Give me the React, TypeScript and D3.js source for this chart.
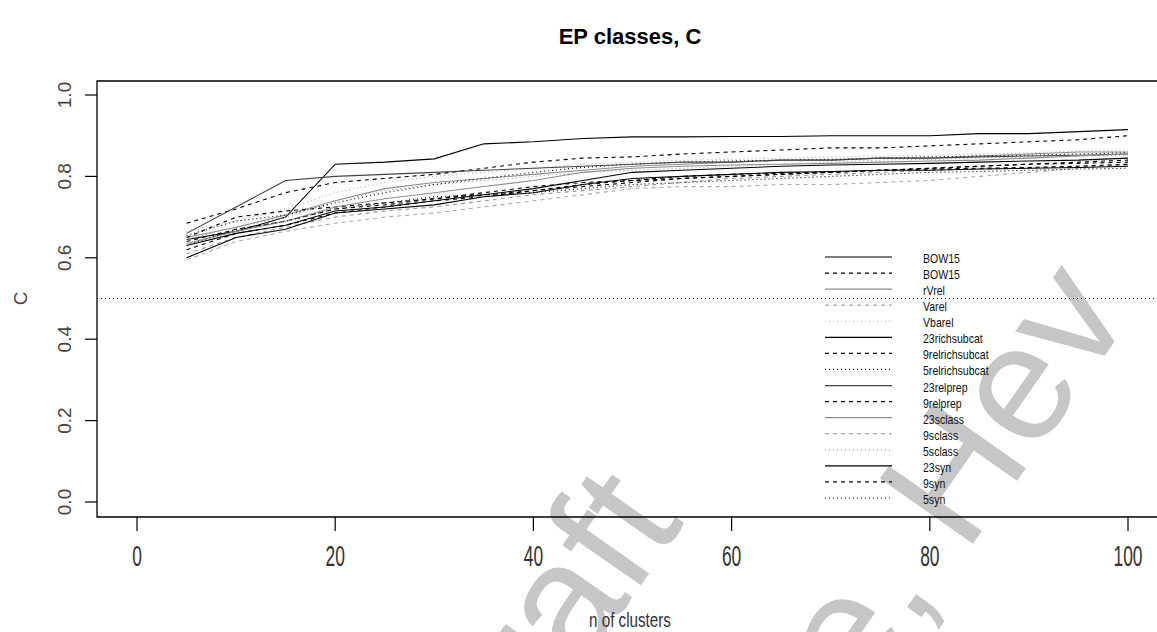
import React from 'react';
import * as d3 from 'd3';

const xValues = [5, 10, 15, 20, 25, 30, 35, 40, 45, 50, 55, 60, 65, 70, 75, 80, 85, 90, 95, 100];

const seriesNames = ['BOW15', 'BOW15', 'rVrel', 'Varel', 'Vbarel', '23richsubcat', '9relrichsubcat', '5relrichsubcat', '23relprep', '9relprep', '23sclass', '9sclass', '5sclass', '23syn', '9syn', '5syn'];
const seriesColors = ['#000000', '#000000', '#8c8c8c', '#aaaaaa', '#aaaaaa', '#000000', '#000000', '#000000', '#444444', '#000000', '#8c8c8c', '#999999', '#999999', '#000000', '#000000', '#000000'];
const seriesStyles = ['solid', 'dashed', 'solid', 'dashed', 'dotted', 'solid', 'dashed', 'dotted', 'solid', 'dashed', 'solid', 'dashed', 'dotted', 'solid', 'dashed', 'dotted'];

const bow15Solid = [0.645, 0.665, 0.700, 0.830, 0.835, 0.843, 0.880, 0.885, 0.893, 0.897, 0.897, 0.898, 0.898, 0.900, 0.900, 0.900, 0.905, 0.905, 0.910, 0.915];
const bow15Dashed = [0.685, 0.720, 0.760, 0.785, 0.795, 0.805, 0.820, 0.835, 0.845, 0.848, 0.855, 0.860, 0.865, 0.870, 0.870, 0.875, 0.880, 0.885, 0.890, 0.900];
const rVrel = [0.650, 0.675, 0.705, 0.740, 0.770, 0.785, 0.795, 0.805, 0.815, 0.825, 0.830, 0.835, 0.840, 0.840, 0.845, 0.845, 0.850, 0.855, 0.860, 0.860];
const varel = [0.595, 0.640, 0.665, 0.685, 0.700, 0.710, 0.725, 0.740, 0.755, 0.770, 0.775, 0.775, 0.780, 0.780, 0.785, 0.790, 0.800, 0.810, 0.820, 0.830];
const vbarel = [0.665, 0.690, 0.720, 0.760, 0.785, 0.800, 0.810, 0.820, 0.830, 0.835, 0.840, 0.842, 0.845, 0.848, 0.850, 0.852, 0.855, 0.858, 0.862, 0.865];
const richsubcat23 = [0.630, 0.660, 0.680, 0.715, 0.725, 0.740, 0.755, 0.770, 0.790, 0.810, 0.815, 0.820, 0.825, 0.828, 0.830, 0.832, 0.835, 0.838, 0.840, 0.845];
const relrichsubcat9 = [0.640, 0.670, 0.690, 0.720, 0.730, 0.745, 0.760, 0.775, 0.785, 0.790, 0.795, 0.800, 0.805, 0.810, 0.815, 0.820, 0.825, 0.830, 0.835, 0.840];
const relrichsubcat5 = [0.655, 0.690, 0.705, 0.735, 0.760, 0.780, 0.795, 0.810, 0.822, 0.830, 0.835, 0.838, 0.840, 0.842, 0.845, 0.848, 0.850, 0.852, 0.855, 0.858];
const relprep23 = [0.660, 0.725, 0.790, 0.800, 0.805, 0.810, 0.815, 0.820, 0.825, 0.830, 0.835, 0.835, 0.840, 0.840, 0.845, 0.845, 0.848, 0.850, 0.852, 0.855];
const relprep9 = [0.650, 0.700, 0.715, 0.725, 0.735, 0.745, 0.755, 0.765, 0.775, 0.785, 0.795, 0.800, 0.805, 0.810, 0.815, 0.820, 0.825, 0.830, 0.832, 0.835];
const sclass23 = [0.635, 0.665, 0.690, 0.725, 0.745, 0.760, 0.775, 0.790, 0.810, 0.820, 0.825, 0.828, 0.830, 0.832, 0.835, 0.838, 0.840, 0.845, 0.850, 0.855];
const sclass9 = [0.610, 0.650, 0.675, 0.700, 0.715, 0.725, 0.740, 0.755, 0.765, 0.775, 0.785, 0.795, 0.800, 0.805, 0.810, 0.815, 0.818, 0.820, 0.825, 0.828];
const sclass5 = [0.645, 0.675, 0.700, 0.740, 0.765, 0.780, 0.790, 0.800, 0.810, 0.815, 0.820, 0.825, 0.830, 0.835, 0.840, 0.842, 0.845, 0.848, 0.850, 0.852];
const syn23 = [0.600, 0.650, 0.670, 0.710, 0.720, 0.730, 0.750, 0.760, 0.780, 0.795, 0.800, 0.805, 0.810, 0.812, 0.815, 0.815, 0.818, 0.820, 0.822, 0.825];
const syn9 = [0.620, 0.660, 0.680, 0.710, 0.725, 0.740, 0.750, 0.765, 0.780, 0.790, 0.800, 0.805, 0.808, 0.810, 0.815, 0.818, 0.820, 0.822, 0.825, 0.830];
const syn5 = [0.630, 0.670, 0.690, 0.720, 0.735, 0.750, 0.755, 0.760, 0.770, 0.780, 0.785, 0.790, 0.795, 0.800, 0.805, 0.810, 0.812, 0.815, 0.818, 0.820];

const seriesValues = [bow15Solid, bow15Dashed, rVrel, varel, vbarel, richsubcat23, relrichsubcat9, relrichsubcat5, relprep23, relprep9, sclass23, sclass9, sclass5, syn23, syn9, syn5];

const xTicks = [0, 20, 40, 60, 80, 100];
const yTicks = [0, 0.2, 0.4, 0.6, 0.8, 1.0];
const refLine = 0.5;

const W = 1157;
const H = 632;
const BOX = { left: 97, top: 81, bottom: 517 };
const FONT = 'Liberation Sans, Arial, sans-serif';

const dashFor = (s: string) => (s === 'dashed' ? '4,4' : s === 'dotted' ? '1,3' : undefined);

export default function App() {
  const x = d3.scaleLinear().domain([0, 100]).range([137, 1128]);
  const y = d3.scaleLinear().domain([0, 1]).range([502, 95]);
  const line = d3.line<number>().x((_, i) => x(xValues[i])).y((d) => y(d));

  const legendY = d3.scaleLinear().domain([0, 15]).range([257, 498]);

  return (
    <svg width={W} height={H} style={{ position: 'absolute', left: 0, top: 0, background: '#fff' }}>
      <rect x={0} y={0} width={W} height={H} fill="#fff" />

      {/* watermark (behind) */}
      <g fill="#c6c6c6" fontFamily={FONT} fontSize={165}>
        <text transform="translate(480,815) rotate(-55)">Draft</text>
        <text transform="translate(860,705) rotate(-55)">e, Hev</text>
      </g>

      <text x={630} y={44} textAnchor="middle" fontFamily={FONT} fontWeight="bold" fontSize={22} fill="#000">
        EP classes, C
      </text>

      {/* plot box */}
      <path d={`M${W + 5},${BOX.top}H${BOX.left}V${BOX.bottom}H${W + 5}`} fill="none" stroke="#000" strokeWidth={1.3} />

      {/* y axis */}
      {yTicks.map((t) => (
        <g key={'y' + t}>
          <line x1={85} x2={BOX.left} y1={y(t)} y2={y(t)} stroke="#000" strokeWidth={1.2} />
          <text transform={`translate(71,${y(t)}) rotate(-90)`} textAnchor="middle" fontFamily={FONT} fontSize={19} fill="#444">
            {d3.format('.1f')(t)}
          </text>
        </g>
      ))}
      <text transform={`translate(27,${y(0.5)}) rotate(-90)`} textAnchor="middle" fontFamily={FONT} fontSize={19} fill="#444">
        C
      </text>

      {/* x axis */}
      {xTicks.map((t) => (
        <g key={'x' + t}>
          <line x1={x(t)} x2={x(t)} y1={BOX.bottom} y2={531} stroke="#000" strokeWidth={1.2} />
          <text transform={`translate(${x(t)},566) scale(0.6,1)`} textAnchor="middle" fontFamily={FONT} fontSize={29} fill="#333">
            {t}
          </text>
        </g>
      ))}
      <text transform={`translate(630,627) scale(0.8,1.05)`} textAnchor="middle" fontFamily={FONT} fontSize={19} fill="#333">
        n of clusters
      </text>

      {/* reference line */}
      <line x1={BOX.left} x2={W} y1={y(refLine)} y2={y(refLine)} stroke="#000" strokeWidth={1} strokeDasharray="1,3" />

      {/* series */}
      {seriesValues.map((vals, i) => (
        <path key={'s' + i} d={line(vals) || ''} fill="none" stroke={seriesColors[i]} strokeWidth={1.1} strokeDasharray={dashFor(seriesStyles[i])} />
      ))}

      {/* legend */}
      {seriesNames.map((n, i) => (
        <g key={'l' + i}>
          <line x1={825} x2={892} y1={legendY(i)} y2={legendY(i)} stroke={seriesColors[i]} strokeWidth={1.2} strokeDasharray={dashFor(seriesStyles[i])} />
          <text transform={`translate(923,${legendY(i) + 6}) scale(0.88,1.05)`} fontFamily={FONT} fontSize={12} fill="#111">
            {n}
          </text>
        </g>
      ))}
    </svg>
  );
}
